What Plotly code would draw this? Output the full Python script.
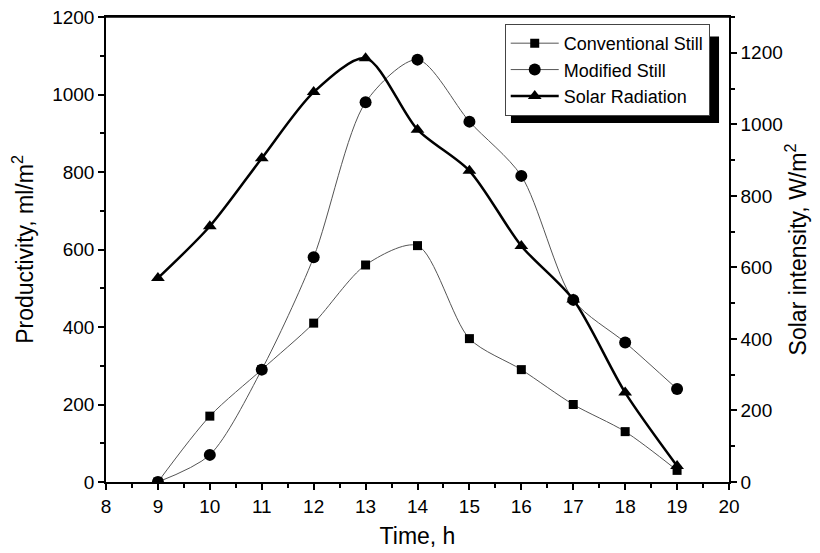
import plotly.graph_objects as go

time_h = [9, 10, 11, 12, 13, 14, 15, 16, 17, 18, 19]
conventional = [0, 170, 290, 410, 560, 610, 370, 290, 200, 130, 30]
modified = [0, 70, 290, 580, 980, 1090, 930, 790, 470, 360, 240]
solar = [570, 715, 905, 1090, 1185, 985, 870, 660, 510, 250, 45]

FONT = "Liberation Sans, Arial, sans-serif"

fig = go.Figure()
fig.add_trace(go.Scatter(
    x=time_h, y=conventional, name="Conventional Still", mode="lines+markers",
    line=dict(color="#555555", width=1, shape="spline", smoothing=0.8),
    marker=dict(symbol="square", size=9, color="black"),
))
fig.add_trace(go.Scatter(
    x=time_h, y=modified, name="Modified Still", mode="lines+markers",
    line=dict(color="#555555", width=1, shape="spline", smoothing=0.8),
    marker=dict(symbol="circle", size=12, color="black"),
))
fig.add_trace(go.Scatter(
    x=time_h, y=solar, name="Solar Radiation", mode="lines+markers", yaxis="y2",
    line=dict(color="black", width=2.5, shape="spline", smoothing=0.8),
    marker=dict(symbol="triangle-up", size=12, color="black"),
))


def axis_style(minor_dtick):
    return dict(
        showline=True, linecolor="black", linewidth=1.5, ticks="outside",
        ticklen=6, tickwidth=1.5, tickcolor="black", showgrid=False, zeroline=False,
        automargin=False, ticklabeloverflow="allow",
        tickfont=dict(family=FONT, size=19, color="black"),
        minor=dict(ticks="outside", ticklen=4, tickwidth=1.5, tickcolor="black",
                   dtick=minor_dtick),
    )


TITLE_FONT = dict(family=FONT, size=23, color="black")

fig.update_layout(
    width=820, height=553,
    margin=dict(l=98, r=99, t=9, b=79),
    paper_bgcolor="white", plot_bgcolor="white",
    font=dict(family=FONT, color="black"),
    xaxis=dict(range=[8, 20], dtick=1, tick0=8, mirror=True,
               title=dict(text="Time, h", font=TITLE_FONT, standoff=12),
               **axis_style(0.5)),
    yaxis=dict(range=[0, 1200], dtick=200,
               title=dict(text="Productivity, ml/m<sup>2</sup>", font=TITLE_FONT, standoff=14),
               **axis_style(100)),
    yaxis2=dict(range=[0, 1300], dtick=200, overlaying="y", side="right",
                title=dict(text="Solar intensity, W/m<sup>2</sup>", font=TITLE_FONT, standoff=8),
                **axis_style(100)),
    legend=dict(x=0.640, y=0.985, xanchor="left", yanchor="top",
                bgcolor="white", bordercolor="#444444", borderwidth=1,
                font=dict(family=FONT, size=18, color="black"),
                tracegroupgap=0, itemwidth=48),
    showlegend=True,
)

# top frame line
fig.add_shape(type="line", xref="paper", yref="paper", x0=0, x1=1, y0=1, y1=1,
              line=dict(color="black", width=1.5), layer="above")

# legend drop shadow
fig.add_shape(type="rect", xref="paper", yref="paper",
              x0=0.650, x1=0.984, y0=0.772, y1=0.958,
              fillcolor="black", line=dict(width=0), layer="above")

fig.write_html("out.html")
